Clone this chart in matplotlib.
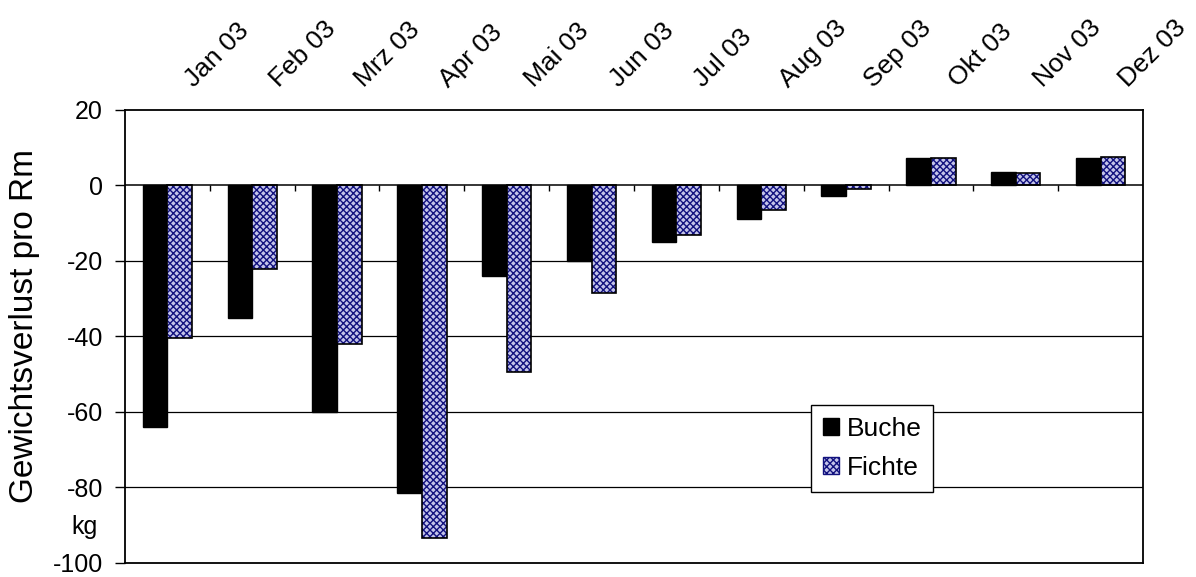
import matplotlib.pyplot as plt
import matplotlib.transforms as mtransforms
from matplotlib.patches import Patch
import numpy as np

plt.rcParams["font.family"] = ["Liberation Sans", "DejaVu Sans"]
plt.rcParams["axes.unicode_minus"] = False
plt.rcParams["hatch.linewidth"] = 1.0

MONTHS = ["Jan 03", "Feb 03", "Mrz 03", "Apr 03", "Mai 03", "Jun 03",
          "Jul 03", "Aug 03", "Sep 03", "Okt 03", "Nov 03", "Dez 03"]
BUCHE = [-64.0, -35.0, -60.0, -81.5, -24.0, -20.0, -15.0, -9.0, -2.8, 7.2, 3.5, 7.2]
FICHTE = [-40.5, -22.0, -42.0, -93.5, -49.5, -28.5, -13.0, -6.5, -1.0, 7.2, 3.3, 7.6]

FICHTE_FACE = "#c4c4ea"
FICHTE_HATCH = "#12127e"


def main() -> None:
    fig = plt.figure(figsize=(11.96, 5.77), dpi=100)
    ax = fig.add_axes([0.1045, 0.0243, 0.8512, 0.7851])

    x = np.arange(len(MONTHS))
    width = 0.29

    ax.bar(x - width / 2, BUCHE, width, color="black", edgecolor="black",
           linewidth=1.0, zorder=3)
    # Fichte: hatched fill first, black outline drawn on top
    ax.bar(x + width / 2, FICHTE, width, color=FICHTE_FACE,
           edgecolor=FICHTE_HATCH, hatch="xxxxx", linewidth=0, zorder=3)
    ax.bar(x + width / 2, FICHTE, width, fill=False, edgecolor="black",
           linewidth=1.2, zorder=4)

    ax.set_xlim(-0.5, len(MONTHS) - 0.5)
    ax.set_ylim(-100, 20)
    ax.set_yticks(np.arange(-100, 21, 20))
    ax.tick_params(axis="y", direction="out", length=7, width=1.0,
                   pad=9, labelsize=18)
    ax.set_xticks([])

    for yv in (-80, -60, -40, -20):
        ax.axhline(yv, color="black", linewidth=0.9, zorder=1)
    ax.axhline(0, color="black", linewidth=1.1, zorder=5)

    # category separators hanging below the zero line
    bounds = x[:-1] + 0.5
    ax.vlines(bounds, -1.4, 0, color="black", linewidth=1.0, zorder=5)

    for side in ("left", "right", "top", "bottom"):
        ax.spines[side].set_linewidth(1.3)

    offset = mtransforms.ScaledTranslation(0.27, 0.22, fig.dpi_scale_trans)
    trans = mtransforms.blended_transform_factory(ax.transData, ax.transAxes) + offset
    for xi, label in zip(x, MONTHS):
        ax.text(xi, 1.0, label, transform=trans, rotation=45,
                rotation_mode="anchor", ha="left", va="baseline", fontsize=19)

    ax.set_ylabel("Gewichtsverlust pro Rm", fontsize=24)
    ax.yaxis.set_label_coords(-0.0835, 0.523)
    kg_trans = mtransforms.blended_transform_factory(ax.transAxes, ax.transData) + \
        mtransforms.ScaledTranslation(-0.27, 0, fig.dpi_scale_trans)
    ax.text(0, -90.5, "kg", transform=kg_trans, ha="right", va="center",
            fontsize=18)

    handles = [
        Patch(facecolor="black", edgecolor="black", label="Buche"),
        Patch(facecolor=FICHTE_FACE, edgecolor=FICHTE_HATCH, hatch="xxxxx",
              label="Fichte"),
    ]
    leg = ax.legend(handles=handles, loc="center", bbox_to_anchor=(0.734, 0.253),
                    fontsize=19, frameon=True, fancybox=False, edgecolor="black",
                    framealpha=1, handlelength=0.6, handleheight=0.6,
                    handletextpad=0.3, borderpad=0.45, labelspacing=0.55)
    leg.get_frame().set_linewidth(1.0)
    leg.set_zorder(6)

    fig.savefig("out.png", dpi=100)
    plt.close(fig)


if __name__ == "__main__":
    main()
